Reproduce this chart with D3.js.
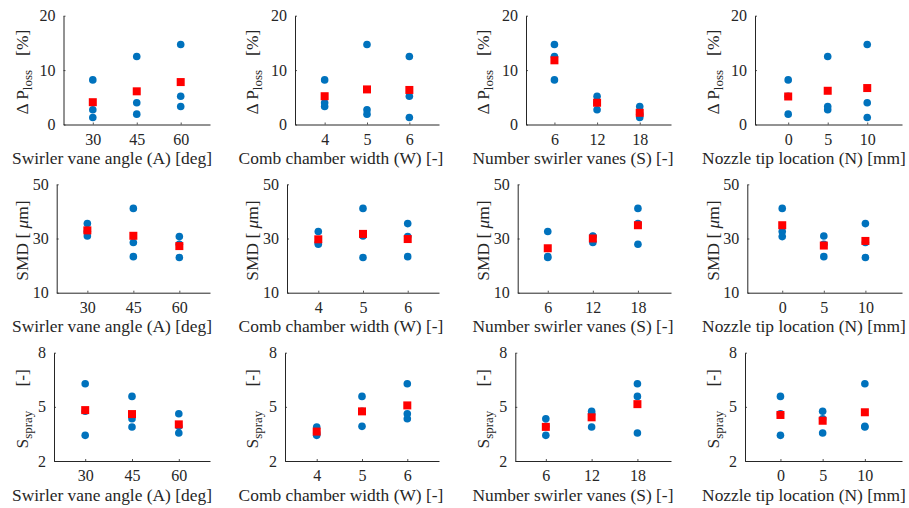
<!DOCTYPE html>
<html>
<head>
<meta charset="utf-8">
<script src="https://cdn.jsdelivr.net/npm/d3@7"></script>
<style>
  body { margin: 0; background: #fff; }
  svg text { fill: #262626; font-family: "Liberation Serif"; }
  .domain, .tick line { stroke: #262626; }
</style>
</head>
<body>
<svg></svg>
<script>
// factor levels (tick labels)
var angleLevels = [30, 45, 60];
var widthLevels = [4, 5, 6];
var vaneLevels = [6, 12, 18];
var nozzleLevels = [0, 5, 10];

// settings of the nine runs
var runAngle  = [30, 30, 30, 45, 45, 45, 60, 60, 60];
var runWidth  = [4, 5, 6, 6, 4, 5, 5, 6, 4];
var runVanes  = [6, 12, 18, 6, 12, 18, 6, 12, 18];
var runNozzle = [0, 5, 10, 5, 10, 0, 10, 0, 5];

// measured responses of the nine runs
var dPloss = [8.2, 2.7, 1.3, 12.5, 4.0, 1.9, 14.7, 5.2, 3.3];
var smd    = [32.6, 30.9, 35.5, 23.3, 28.5, 41.1, 23.0, 30.7, 27.9];
var sSpray = [3.42, 4.76, 6.28, 4.34, 3.88, 5.58, 3.92, 4.62, 3.55];

// level means (red squares), order: angle, width, vanes, nozzle
var dPlossMeans = [[4.1, 6.1, 7.8], [5.2, 6.45, 6.35], [11.8, 4.0, 2.15], [5.15, 6.2, 6.7]];
var smdMeans    = [[33.0, 31.0, 27.2], [29.7, 31.7, 29.8], [26.4, 30.0, 34.9], [34.9, 27.4, 29.1]];
var sSprayMeans = [[4.82, 4.60, 4.03], [3.63, 4.75, 5.08], [3.89, 4.42, 5.15], [4.55, 4.23, 4.70]];

var xLabels = ["Swirler vane angle (A) [deg]", "Comb chamber width (W) [-]",
               "Number swirler vanes (S) [-]", "Nozzle tip location (N) [mm]"];

var width = 909, height = 508;
var serif = "Liberation Serif";
var svg = d3.select("svg").attr("width", width).attr("height", height);

var colLevels = [angleLevels, widthLevels, vaneLevels, nozzleLevels];
var colRuns = [runAngle, runWidth, runVanes, runNozzle];
var colXlim = [[20, 70], [3.3, 6.7], [2, 22.4], [-4.2, 14.4]];

var rows = [
  {values: dPloss, means: dPlossMeans, dom: [0, 20], ticks: [0, 10, 20], top: 15.7, bottom: 124.5,
   lefts: [63.5, 295, 526, 755], label: "dp"},
  {values: smd, means: smdMeans, dom: [10, 50], ticks: [10, 30, 50], top: 184.3, bottom: 292.7,
   lefts: [56.7, 287, 517.7, 747.3], label: "smd"},
  {values: sSpray, means: sSprayMeans, dom: [2, 8], ticks: [2, 5, 8], top: 352.7, bottom: 461,
   lefts: [54, 285, 515.3, 745], label: "ss"}
];
var rights = [210, 439, 671, 902];
var ylabX = [27.5, 258, 489, 718.5];

rows.forEach(function(row, ri) {
  var y = d3.scaleLinear().domain(row.dom).range([row.bottom, row.top]);

  colLevels.forEach(function(levels, ci) {
    var x = d3.scaleLinear().domain(colXlim[ci]).range([row.lefts[ci], rights[ci]]);
    var g = svg.append("g");

    var xAxis = d3.axisBottom(x).tickValues(levels).tickFormat(d3.format("d"))
      .tickSize(-2).tickPadding(5).tickSizeOuter(0);
    var gx = g.append("g")
      .attr("transform", "translate(0," + row.bottom + ")")
      .call(xAxis);
    gx.selectAll("text").attr("font-family", serif).attr("font-size", 16).attr("dy", "0.95em");

    var yAxis = d3.axisLeft(y).tickValues(row.ticks).tickFormat(d3.format("d"))
      .tickSize(-2).tickPadding(8).tickSizeOuter(0);
    var gy = g.append("g")
      .attr("transform", "translate(" + row.lefts[ci] + ",0)")
      .call(yAxis);
    gy.selectAll("text").attr("font-family", serif).attr("font-size", 16);
    g.selectAll(".domain").attr("stroke-width", 1);
    g.selectAll(".tick line").attr("stroke-width", 0.8);

    // blue: single runs
    var runs = colRuns[ci];
    g.selectAll("circle.run")
      .data(row.values)
      .enter()
      .append("circle")
      .attr("class", "run")
      .attr("cx", function(d, i) { return x(runs[i]); })
      .attr("cy", function(d) { return y(d); })
      .attr("r", 3.8)
      .attr("fill", "#0072BD");

    // red: level means
    g.selectAll("rect.mean")
      .data(row.means[ci])
      .enter()
      .append("rect")
      .attr("class", "mean")
      .attr("x", function(d, i) { return x(levels[i]) - 4; })
      .attr("y", function(d) { return y(d) - 4; })
      .attr("width", 8)
      .attr("height", 8)
      .attr("fill", "#FF0000");

    // x label
    g.append("text")
      .attr("x", rights[ci] - 98)
      .attr("y", row.bottom + 39.5)
      .attr("text-anchor", "middle")
      .attr("font-family", serif)
      .attr("font-size", 17.4)
      .text(xLabels[ci]);

    // y label
    var yc = (row.top + row.bottom) / 2 + 2;
    var yl = g.append("text")
      .attr("transform", "translate(" + ylabX[ci] + "," + yc + ") rotate(-90)")
      .attr("text-anchor", "middle")
      .attr("font-family", serif)
      .attr("font-size", 17.4);
    if (row.label === "dp") {
      yl.append("tspan").text("\u0394 P");
      yl.append("tspan").attr("font-size", 13).attr("dy", 4).text("loss");
      yl.append("tspan").attr("dx", 14).attr("dy", -4).text("[%]");
    } else if (row.label === "smd") {
      yl.append("tspan").text("SMD [ ");
      yl.append("tspan").attr("font-style", "italic").text("\u03bc");
      yl.append("tspan").text("m]");
    } else {
      yl.append("tspan").text("S");
      yl.append("tspan").attr("font-size", 13).attr("dy", 4).text("spray");
      yl.append("tspan").attr("dx", 24).attr("dy", -4).text("[-]");
    }
  });
});
</script>
</body>
</html>
